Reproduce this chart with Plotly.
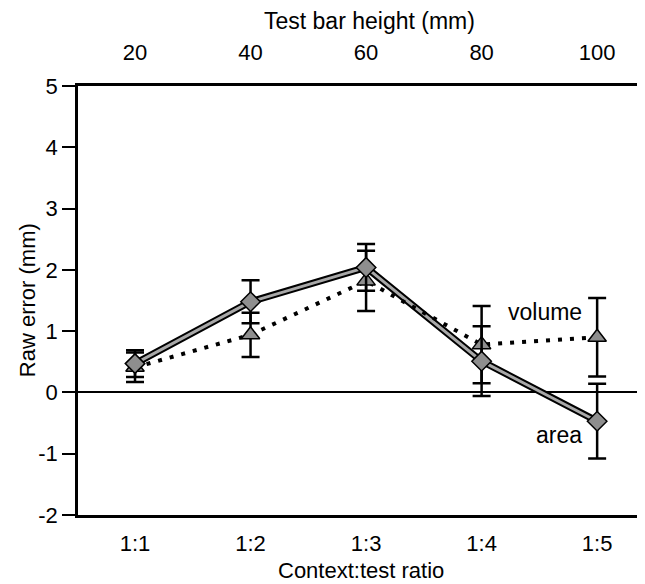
import plotly.graph_objects as go

ratios = ["1:1", "1:2", "1:3", "1:4", "1:5"]
heights = [20, 40, 60, 80, 100]

area_mean = [0.47, 1.48, 2.04, 0.51, -0.47]
area_err = [0.22, 0.35, 0.38, 0.57, 0.61]
volume_mean = [0.41, 0.94, 1.82, 0.78, 0.90]
volume_err = [0.24, 0.36, 0.49, 0.63, 0.64]

y_ticks = [5, 4, 3, 2, 1, 0, -1, -2]

FONT = "Liberation Sans, Arial, sans-serif"
GRAY = "#8e8e8e"

x_range = [10.13, 106.9]

fig = go.Figure()

# area: double-stroke line (black outline with gray core)
fig.add_trace(go.Scatter(x=heights, y=area_mean, mode="lines",
                         line=dict(color="black", width=7), hoverinfo="skip",
                         showlegend=False))
fig.add_trace(go.Scatter(x=heights, y=area_mean, mode="lines",
                         line=dict(color="#a8a8a8", width=3), hoverinfo="skip",
                         showlegend=False))
# volume: dotted line
fig.add_trace(go.Scatter(x=heights, y=volume_mean, mode="lines",
                         line=dict(color="black", width=4, dash="4px,8px"),
                         showlegend=False))

fig.add_trace(go.Scatter(
    x=heights, y=volume_mean, mode="markers", name="volume",
    marker=dict(symbol="triangle-up", size=16, color=GRAY,
                line=dict(color="black", width=1.5)),
    error_y=dict(type="data", array=volume_err, color="black",
                 thickness=2.5, width=9),
    showlegend=False))
fig.add_trace(go.Scatter(
    x=heights, y=area_mean, mode="markers", name="area",
    marker=dict(symbol="diamond", size=15, color=GRAY,
                line=dict(color="black", width=1.5)),
    error_y=dict(type="data", array=area_err, color="black",
                 thickness=2.5, width=9),
    showlegend=False))

# invisible trace on the top axis
fig.add_trace(go.Scatter(x=heights, y=area_mean, xaxis="x2", mode="markers",
                         marker=dict(opacity=0), hoverinfo="skip",
                         showlegend=False))

fig.add_annotation(x=91.0, y=1.31, xref="x", yref="y", text="volume",
                   xanchor="center", showarrow=False,
                   font=dict(family=FONT, size=23, color="black"))
fig.add_annotation(x=93.4, y=-0.69, xref="x", yref="y", text="area",
                   xanchor="center", showarrow=False,
                   font=dict(family=FONT, size=23, color="black"))

fig.add_annotation(x=0.522, y=1.0, xref="paper", yref="paper", yshift=65,
                   xanchor="center", yanchor="middle",
                   text="Test bar height (mm)", showarrow=False,
                   font=dict(family=FONT, size=23, color="black"))
fig.add_annotation(x=0.506, y=0.0, xref="paper", yref="paper", yshift=-55,
                   xanchor="center", yanchor="middle",
                   text="Context:test ratio", showarrow=False,
                   font=dict(family=FONT, size=22, color="black"))
fig.add_annotation(x=-0.091, y=0.501, xref="paper", yref="paper",
                   xanchor="center", yanchor="middle",
                   text="Raw error (mm)", textangle=-90, showarrow=False,
                   font=dict(family=FONT, size=22, color="black"))

fig.update_layout(
    width=629, height=576,
    margin=dict(l=70, r=0, t=78, b=69),
    paper_bgcolor="white", plot_bgcolor="white",
    font=dict(family=FONT, size=22, color="black"),
    xaxis=dict(range=x_range, tickvals=heights, ticktext=ratios,
               showgrid=False, zeroline=False, showline=True,
               linecolor="black", linewidth=2.5, ticks="",
               ticklabelstandoff=7, automargin=False),
    xaxis2=dict(range=x_range, overlaying="x", side="top",
                tickvals=heights, ticktext=[str(h) for h in heights],
                showgrid=False, zeroline=False, showline=True,
                linecolor="black", linewidth=2.5, ticks="",
                ticklabelstandoff=14, automargin=False),
    yaxis=dict(range=[-2, 5], tickvals=y_ticks,
               ticktext=[str(v) for v in y_ticks],
               showgrid=False, zeroline=True, zerolinecolor="black",
               zerolinewidth=2, showline=True, linecolor="black",
               linewidth=2.5, ticks="outside", ticklen=13, tickwidth=2,
               tickcolor="black", automargin=False),
)

fig.write_html("out.html")
